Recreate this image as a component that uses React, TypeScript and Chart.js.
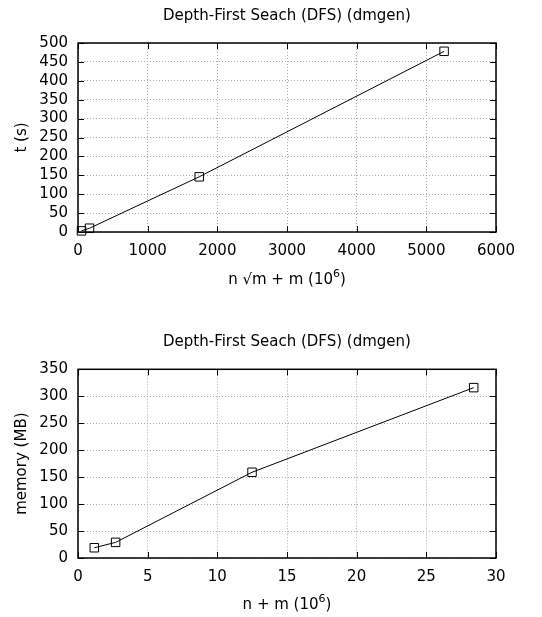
import React, { useEffect, useRef } from "react";
import { Chart, registerables } from "chart.js";

Chart.register(...registerables);

// Running time vs. n*sqrt(m) + m (in 10^6)
const timeX = [50, 165, 1740, 5255];
const timeY = [3, 10, 146, 478];

// Memory vs. n + m (in 10^6)
const memX = [1.17, 2.7, 12.49, 28.4];
const memY = [19, 29, 159, 316];

const TITLE = "Depth-First Seach (DFS) (dmgen)";
const FONT = "'DejaVu Sans', sans-serif";

// Inward tick marks on all four sides plus a solid frame, gnuplot style
const frameTicks = {
  id: "frameTicks",
  afterDraw(chart: any) {
    const { ctx, chartArea: a, scales } = chart;
    const len = 6;
    ctx.save();
    ctx.strokeStyle = "#000";
    ctx.lineWidth = 1;
    ctx.beginPath();
    for (const t of scales.x.ticks) {
      const px = Math.round(scales.x.getPixelForValue(t.value)) + 0.5;
      ctx.moveTo(px, a.bottom);
      ctx.lineTo(px, a.bottom - len);
      ctx.moveTo(px, a.top);
      ctx.lineTo(px, a.top + len);
    }
    for (const t of scales.y.ticks) {
      const py = Math.round(scales.y.getPixelForValue(t.value)) + 0.5;
      ctx.moveTo(a.left, py);
      ctx.lineTo(a.left + len, py);
      ctx.moveTo(a.right, py);
      ctx.lineTo(a.right - len, py);
    }
    ctx.stroke();
    ctx.lineWidth = 1.5;
    ctx.strokeRect(a.left, a.top, a.right - a.left, a.bottom - a.top);
    ctx.restore();
  },
};

// x-axis label with a real superscript exponent: [base, exponent, tail]
function xLabelPlugin(parts: [string, string, string], yFromBottom: number) {
  return {
    id: "xLabel",
    afterDraw(chart: any) {
      const { ctx, chartArea: a, height } = chart;
      const main = `15px ${FONT}`;
      const sup = `11px ${FONT}`;
      ctx.save();
      ctx.fillStyle = "#000";
      ctx.textBaseline = "middle";
      ctx.textAlign = "left";
      ctx.font = main;
      const w0 = ctx.measureText(parts[0]).width;
      const w2 = ctx.measureText(parts[2]).width;
      ctx.font = sup;
      const w1 = ctx.measureText(parts[1]).width;
      const total = w0 + w1 + w2;
      let x = (a.left + a.right) / 2 - total / 2;
      const y = height - yFromBottom;
      ctx.font = main;
      ctx.fillText(parts[0], x, y);
      x += w0;
      ctx.font = sup;
      ctx.fillText(parts[1], x, y - 6);
      x += w1;
      ctx.font = main;
      ctx.fillText(parts[2], x, y);
      ctx.restore();
    },
  };
}

type Cfg = {
  xs: number[];
  ys: number[];
  xMax: number;
  xStep: number;
  yMax: number;
  yStep: number;
  xTitle: [string, string, string];
  yTitle: string;
  titleTop: number;
  titleBottom: number;
  xBoxHeight: number;
  xTitleFromBottom: number;
  height: number;
};

function Plot(p: Cfg) {
  const ref = useRef<HTMLCanvasElement>(null);
  useEffect(() => {
    const grid = { color: "#aaa", lineWidth: 1, drawTicks: false, tickLength: 0 };
    const border = { display: false, dash: [1, 2] };
    const chart = new Chart(ref.current!, {
      type: "line",
      data: {
        datasets: [
          {
            data: p.xs.map((x, i) => ({ x, y: p.ys[i] })),
            borderColor: "#000",
            borderWidth: 1,
            pointStyle: "rect",
            pointRadius: 6,
            pointBorderWidth: 1,
            pointBorderColor: "#000",
            pointBackgroundColor: "rgba(0,0,0,0)",
            tension: 0,
            fill: false,
            clip: false,
          },
        ],
      },
      options: {
        animation: false,
        responsive: false,
        layout: { padding: { left: 0, right: 46, top: 0, bottom: 0 } },
        plugins: {
          legend: { display: false },
          tooltip: { enabled: false },
          title: {
            display: true,
            text: TITLE,
            fullSize: false,
            color: "#000",
            font: { family: FONT, size: 15, weight: "normal" },
            padding: { top: p.titleTop, bottom: p.titleBottom },
          },
        },
        scales: {
          x: {
            type: "linear",
            min: 0,
            max: p.xMax,
            border,
            grid,
            ticks: {
              stepSize: p.xStep,
              autoSkip: false,
              color: "#000",
              padding: 10,
              maxRotation: 0,
              font: { family: FONT, size: 15 },
              callback: (v: any) => String(v),
            },
            afterFit: (s: any) => {
              s.height = p.xBoxHeight;
            },
          },
          y: {
            type: "linear",
            min: 0,
            max: p.yMax,
            border,
            grid,
            ticks: {
              stepSize: p.yStep,
              autoSkip: false,
              color: "#000",
              padding: 10,
              font: { family: FONT, size: 15 },
              callback: (v: any) => String(v),
            },
            title: {
              display: true,
              text: p.yTitle,
              color: "#000",
              font: { family: FONT, size: 15 },
              padding: { top: 13, bottom: 0 },
            },
            afterFit: (s: any) => {
              s.width = 78;
            },
          },
        },
      } as any,
      plugins: [frameTicks, xLabelPlugin(p.xTitle, p.xTitleFromBottom)],
    });
    return () => chart.destroy();
  }, []);
  return <canvas ref={ref} width={542} height={p.height} style={{ display: "block" }} />;
}

export default function App() {
  return (
    <div style={{ position: "absolute", left: 0, top: 0, width: 542, height: 617, background: "#fff" }}>
      <Plot
        xs={timeX}
        ys={timeY}
        xMax={6000}
        xStep={1000}
        yMax={500}
        yStep={50}
        xTitle={["n \u221Am + m (10", "6", ")"]}
        yTitle="t (s)"
        titleTop={7}
        titleBottom={18}
        xBoxHeight={68}
        xTitleFromBottom={20}
        height={300}
      />
      <Plot
        xs={memX}
        ys={memY}
        xMax={30}
        xStep={5}
        yMax={350}
        yStep={50}
        xTitle={["n + m (10", "6", ")"]}
        yTitle="memory (MB)"
        titleTop={32.7}
        titleBottom={18.6}
        xBoxHeight={59}
        xTitleFromBottom={12}
        height={317}
      />
    </div>
  );
}
